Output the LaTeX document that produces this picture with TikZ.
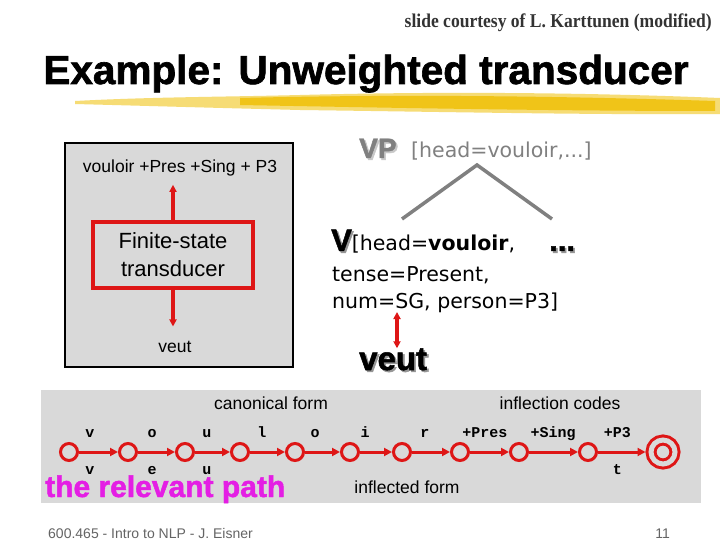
\documentclass[tikz,border=0pt]{standalone}
\usepackage{fontspec}
\setmainfont{Liberation Sans}
\newfontfamily\codefont{Liberation Mono}
\newfontfamily\creditfont[FakeStretch=0.9]{Liberation Serif}
\newfontfamily\featfont{DejaVu Sans}
\newfontfamily\heavyfont[BoldFeatures={FakeBold=1.6}]{Liberation Sans}
\usetikzlibrary{arrows.meta}
\definecolor{fstred}{RGB}{222,22,22}
\definecolor{panelgray}{RGB}{217,217,217}
\definecolor{pathpink}{RGB}{228,30,228}
\definecolor{brushyellow}{RGB}{240,196,24}
\definecolor{treegray}{RGB}{128,128,128}
\definecolor{shadowgray}{RGB}{150,150,150}
\definecolor{paleshadow}{RGB}{200,200,200}
\definecolor{footgray}{RGB}{100,100,100}
\newcommand{\shadowed}[2][shadowgray]{\rlap{\kern1.8pt\raisebox{-1.8pt}{\textcolor{#1}{#2}}}#2}
\newcommand{\heavy}[1]{\fontsize{#1}{#1}\heavyfont\bfseries}

\begin{document}
\begin{tikzpicture}[x=1pt, y=-1pt, every node/.style={inner sep=0pt},
  panel/.style={draw=black, line width=1.5pt, fill=panelgray},
  fstbox/.style={draw=fstred, line width=3.2pt, fill=panelgray, minimum width=160pt,
    minimum height=66pt, align=center, font=\fontsize{22}{28}\selectfont},
  redarrow/.style={fstred, line width=3.2pt, -{Triangle[length=7pt,width=7pt]}},
  twoway/.style={fstred, line width=3.2pt, {Triangle[length=7pt,width=7pt]}-{Triangle[length=7pt,width=7pt]}},
  state/.style={circle, draw=fstred, line width=3pt, minimum size=17pt, fill=panelgray},
  finalstate/.style={state, minimum size=24pt, line width=3pt, double=panelgray,
    double distance=5pt, outer sep=5.5pt},
  fstedge/.style={fstred, line width=3pt, -{Triangle[length=8pt,width=8pt]}},
  arclabel/.style={text=black, font=\codefont\bfseries\fontsize{15}{15}\selectfont, anchor=base},
  bandtext/.style={font=\fontsize{17.5}{17.5}\selectfont, anchor=base},
  feat/.style={font=\featfont\fontsize{20.5}{20.5}\selectfont, anchor=base west},
  treeline/.style={treegray, line width=3.5pt}]
  \useasboundingbox (0,0) rectangle (720,540);
  \fill[white] (0,0) rectangle (720,540);

  % header
  \node[anchor=base east, text=black!80, font=\creditfont\bfseries\fontsize{19.5}{19.5}\selectfont]
    (credit) at (712,28) {slide courtesy of L. Karttunen (modified)};
  \fill[brushyellow!70, opacity=0.85] (75,101) .. controls (150,97) and (220,97) .. (300,95)
    .. controls (450,91) and (600,93) .. (720,98) -- (720,114)
    .. controls (600,115) and (450,112) .. (300,110)
    .. controls (220,108) and (150,106) .. (75,104) -- cycle;
  \fill[brushyellow] (240,98) .. controls (400,94) and (560,96) .. (715,101) -- (715,111)
    .. controls (560,111) and (400,108) .. (240,105) -- cycle;
  \node[anchor=base, font=\heavy{40.5}] (title) at (366,84) {Example: Unweighted transducer};

  % transducer as a black box
  \node[panel, minimum width=228pt, minimum height=224pt] (lexpanel) at (179,255) {};
  \node[fstbox] (fst) at (173,255) {Finite-state\\transducer};
  \node[anchor=base, font=\fontsize{17.5}{17.5}\selectfont] (lexform) at (180,173) {vouloir +Pres +Sing + P3};
  \node[anchor=base, font=\fontsize{17.5}{17.5}\selectfont] (surfform) at (175,352) {veut};
  \draw[redarrow, shorten >=8pt] (fst.north) -- (fst.north |- lexform.south);
  \draw[redarrow, shorten >=14pt] (fst.south) -- (fst.south |- surfform.north);

  % feature structures
  \node[anchor=base west, text=treegray] (vpcat) at (359,158) {\heavy{28}\shadowed[paleshadow]{VP}};
  \node[feat, text=treegray] (vpfeat) at (411,158) {[head=vouloir,...]};
  \node[feat] (vfeat) at (331,251) {{\heavy{31}\shadowed{V}}[head=\textbf{vouloir},};
  \node[anchor=base west] (vdots) at (549,251) {\heavy{31}\shadowed{...}};
  \node[feat] (tense) at (332,281) {tense=Present,};
  \node[feat] (agree) at (332,308) {num=SG, person=P3]};
  \node[anchor=base west] (veutbig) at (359,370) {\heavy{33}\shadowed{veut}};
  \coordinate (vpapex) at (477,165);
  \coordinate (vfoot) at (402,219);
  \coordinate (dotfoot) at (552,219);
  \draw[treeline] (vfoot) -- (vpapex) -- (dotfoot);
  \coordinate (sgmark) at (397,312);
  \draw[twoway] (sgmark) -- (sgmark |- veutbig.north);

  % the transducer path
  \fill[panelgray] (41,390) rectangle (701,503);
  \node[bandtext] (canon) at (271,409) {canonical form};
  \node[bandtext] (infcodes) at (560,409) {inflection codes};
  \node[bandtext] (infform) at (407,493) {inflected form};
  \node[anchor=base west, text=pathpink, font=\heavy{30}] (relpath) at (45,497) {the relevant path};
  \foreach \name/\x in {s0/69, s1/128, s2/185, s3/240, s4/295, s5/350, s6/402, s7/460, s8/519, s9/588}
    \node[state] (\name) at (\x,452) {};
  \node[finalstate] (s10) at (663,452) {};
  \foreach \a/\b/\p/\up/\down in {s0/s1/0.28/v/v, s1/s2/0.38/o/e, s2/s3/0.34/u/u, s3/s4/0.34/l/,
      s4/s5/0.29/o/, s5/s6/0.16/i/, s6/s7/0.34/r/, s7/s8/0.38/+Pres/, s8/s9/0.49/+Sing/, s9/s10/0.41/+P3/t}
    \draw[fstedge] (\a) -- (\b)
      node[arclabel, pos=\p, yshift=15pt] {\up}
      node[arclabel, pos=\p, yshift=-22.5pt] {\down};

  % footer
  \node[anchor=base west, text=footgray, font=\fontsize{14}{14}\selectfont] (course) at (48,538)
    {600.465 - Intro to NLP - J. Eisner};
  \node[anchor=base east, text=footgray, font=\fontsize{14}{14}\selectfont] (pageno) at (670,538) {11};
\end{tikzpicture}
\end{document}
